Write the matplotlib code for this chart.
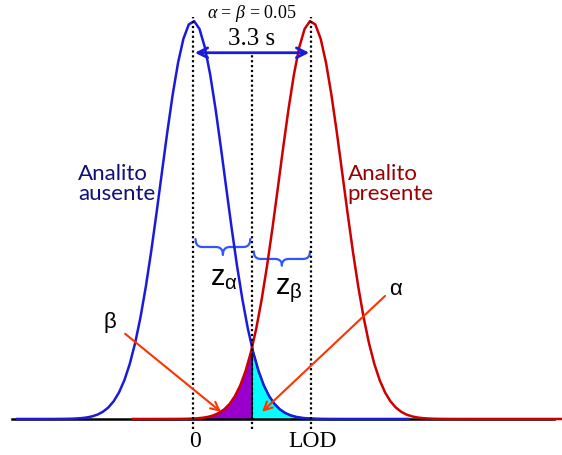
import numpy as np
import matplotlib
matplotlib.use("Agg")
import matplotlib.pyplot as plt

# distribution parameters (units of s)
mu_blank = 0.0      # analito ausente
mu_lod = 3.3        # analito presente (LOD)
sigma = 0.89
step = 0.15
x_blue = np.arange(-4.92, 6.1, step)
x_red = np.arange(-1.68, 10.35, step)
tick_pos = [mu_blank, mu_lod]
tick_labels = ["0", "LOD"]

plt.rcParams["mathtext.fontset"] = "custom"
plt.rcParams["mathtext.rm"] = "Liberation Sans"
plt.rcParams["mathtext.it"] = "Liberation Serif:italic"

def gauss(x, m):
    return np.exp(-0.5 * ((x - m) / sigma) ** 2)

def qbez(p0, p1, p2, n=30):
    t = np.linspace(0, 1, n)[:, None]
    return (1 - t) ** 2 * np.array(p0) + 2 * (1 - t) * t * np.array(p1) + t ** 2 * np.array(p2)

def brace(ax, x0, x1, ytop, ybar, ypt, r, color):
    xm = (x0 + x1) / 2
    left = np.vstack([qbez((x0, ytop), (x0, ybar), (x0 + r, ybar)),
                      qbez((xm - r, ybar), (xm, ybar), (xm, ypt))])
    right = left.copy()
    right[:, 0] = x0 + x1 - right[:, 0]
    pts = np.vstack([left, right[::-1]])
    ax.plot(pts[:, 0], pts[:, 1], color=color, lw=1.6, solid_capstyle="round",
            solid_joinstyle="round")

fig = plt.figure(figsize=(5.62, 4.56), dpi=100)
ax = fig.add_axes([0, 0, 1, 1])
ax.set_xlim(-5.40, 10.32)
ax.set_ylim(-0.0905, 1.055)
ax.axis("off")

xc = (mu_blank + mu_lod) / 2
y_blue = gauss(x_blue, mu_blank)
y_red = gauss(x_red, mu_lod)

# shaded error areas
m = x_red <= xc
xr = np.append(x_red[m], xc)
ax.fill_between(xr, 0, gauss(xr, mu_lod), color="#9900CC", zorder=2)
m = x_blue >= xc
xb = np.insert(x_blue[m], 0, xc)
ax.fill_between(xb, 0, gauss(xb, mu_blank), color="#00FFFF", zorder=2)
ax.plot(xb, gauss(xb, mu_blank), color="black", lw=1.2, zorder=3)
ax.plot([xc, xc], [0, gauss(xc, mu_blank)], color="black", lw=1.2, zorder=3)

# baseline
ax.plot([-5.06, 10.1], [0, 0], color="black", lw=1.8, zorder=3)

ax.plot(x_blue, y_blue, color="#1a1adb", lw=1.8, zorder=4)
ax.plot(x_red, y_red, color="#cc0000", lw=1.8, zorder=4)

# dotted guide lines
for xv, ytop in [(mu_blank, 1.01), (mu_lod, 1.01), (xc, 0.918)]:
    ax.plot([xv, xv], [-0.025, ytop], color="black", lw=1.6,
            linestyle=(0, (1, 1.2)), zorder=5)

ax.annotate("", xy=(mu_blank + 0.05, 0.92), xytext=(mu_lod - 0.05, 0.92),
            arrowprops=dict(arrowstyle="<->,head_length=0.7,head_width=0.35",
                            color="#1a1adb", lw=2, shrinkA=0, shrinkB=0), zorder=6)

serif = "Liberation Serif"
ax.text(xc, 0.958, "3.3 s", ha="center", va="center", fontsize=18, family=serif)
ax.text(xc, 1.02, r"$\alpha$ = $\beta$ = 0.05", ha="center", va="center", fontsize=13,
        family=serif)
for p, lab in zip(tick_pos, tick_labels):
    ax.text(p + 0.05, -0.053, lab, ha="center", va="center", fontsize=17, family=serif)

ax.text(-3.22, 0.593, "Analito\nausente", ha="left", va="center", fontsize=16,
        family="Lato", color="#10107a", linespacing=1.0)
ax.text(4.33, 0.593, "Analito\npresente", ha="left", va="center", fontsize=16,
        family="Lato", color="#990000", linespacing=1.0)

# braces
brace(ax, 0.07, 1.6, 0.452, 0.432, 0.412, 0.2, "#3355ff")
brace(ax, 1.7, 3.27, 0.421, 0.402, 0.385, 0.2, "#3355ff")

ax.text(0.86, 0.357, r"$\mathrm{z}_{\mathrm{\alpha}}$", ha="center", va="center",
        fontsize=21, family="Liberation Sans")
ax.text(2.68, 0.327, r"$\mathrm{z}_{\mathrm{\beta}}$", ha="center", va="center",
        fontsize=21, family="Liberation Sans")

# alpha / beta pointers
red_arrow = dict(arrowstyle="->,head_length=0.6,head_width=0.3", color="#ff3300",
                 lw=1.5, shrinkA=0, shrinkB=0)
ax.annotate("", xy=(0.78, 0.018), xytext=(-1.90, 0.214), arrowprops=red_arrow, zorder=7)
ax.annotate("", xy=(1.93, 0.018), xytext=(5.37, 0.309), arrowprops=red_arrow, zorder=7)
ax.text(-2.32, 0.244, "β", ha="center", va="center", fontsize=16, family="Liberation Sans")
ax.text(5.65, 0.327, "α", ha="center", va="center", fontsize=16, family="Liberation Sans")

fig.savefig("out.png", dpi=100)
